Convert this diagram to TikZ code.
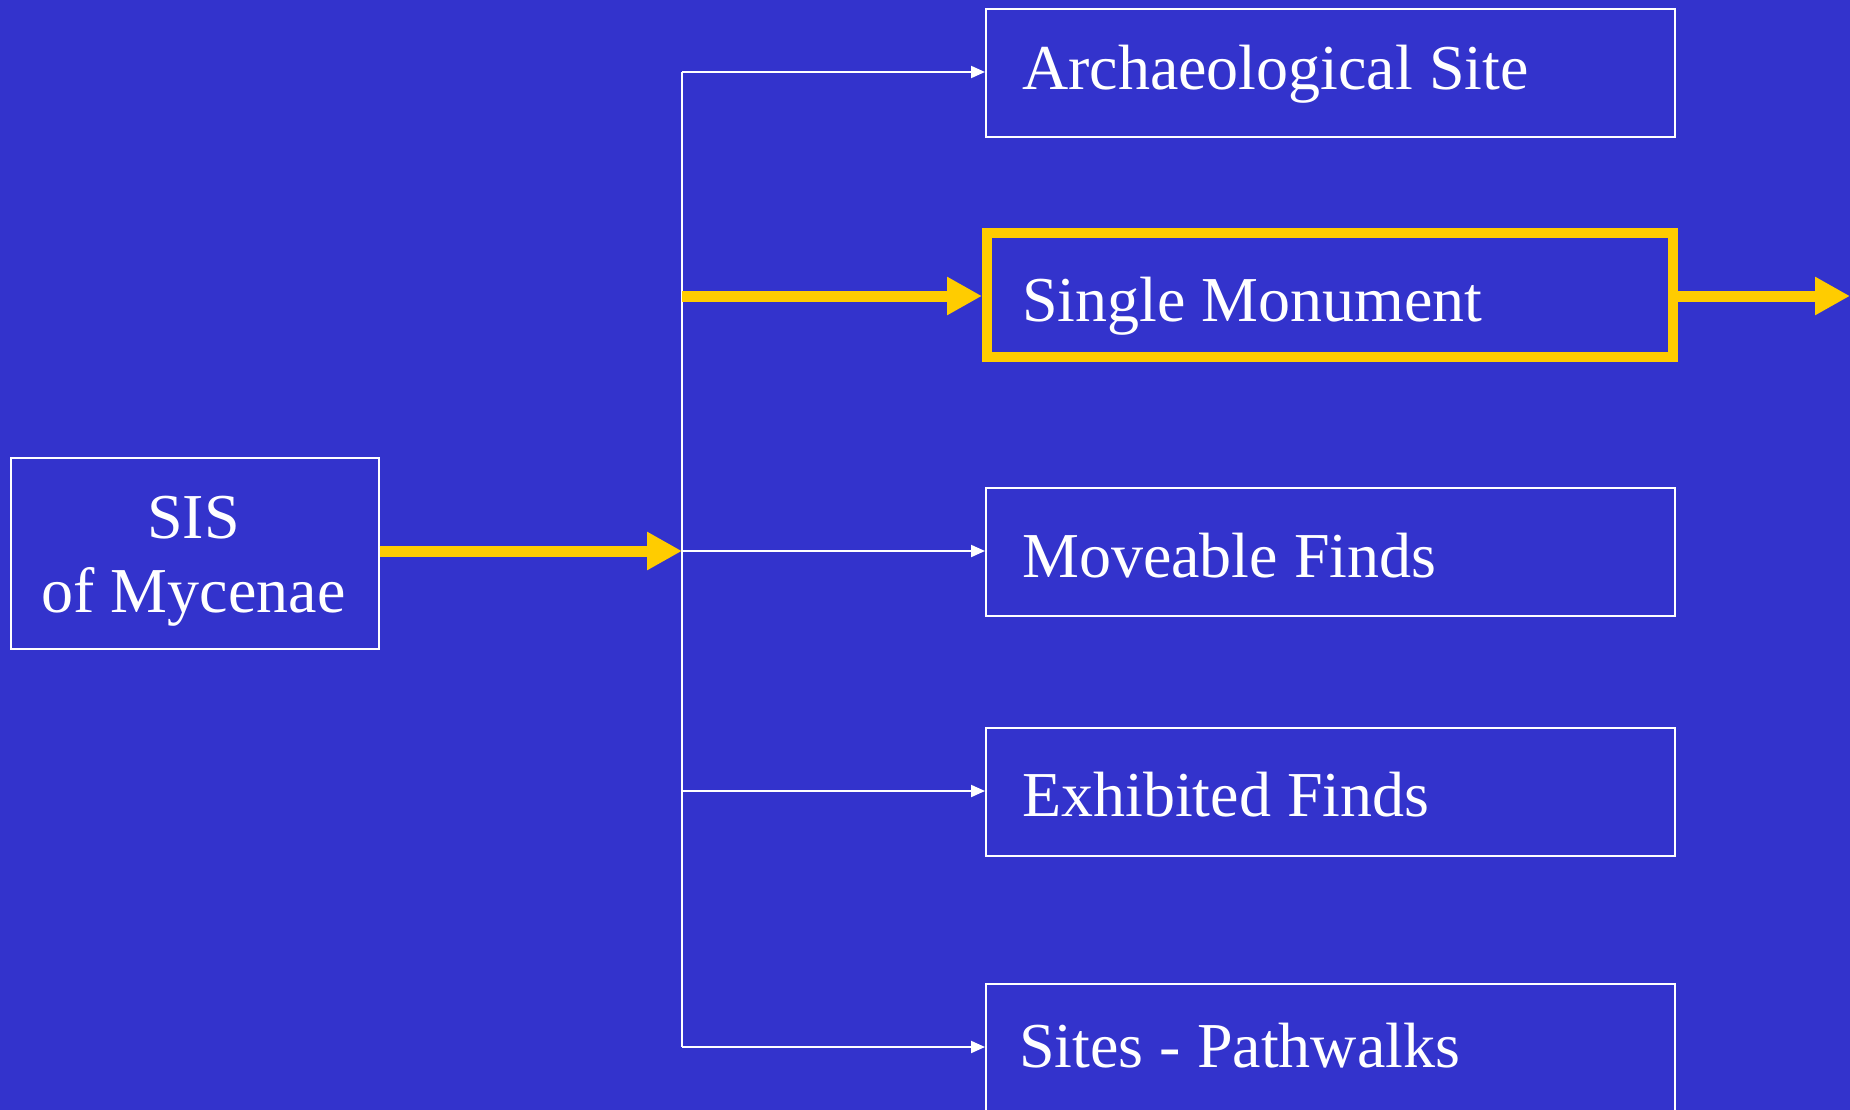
\documentclass[tikz,border=0pt]{standalone}
\usepackage{fontspec}
\setmainfont{Liberation Serif}
\usetikzlibrary{arrows.meta}
\definecolor{bg}{HTML}{3333CC}
\definecolor{gold}{HTML}{FFCC00}
\begin{document}
\begin{tikzpicture}[x=1pt,y=-1pt,
  wbox/.style={draw=white, line width=2pt, minimum width=689pt, minimum height=128pt, inner sep=0pt, anchor=north west},
  ybox/.style={draw=gold, line width=10pt, minimum width=686pt, minimum height=124pt, inner sep=0pt},
  lbl/.style={text=white, inner sep=0pt, font=\fontsize{64}{76}\selectfont},
  wline/.style={draw=white, line width=2pt},
  warrow/.style={wline, -{Triangle[length=14pt,width=12pt]}},
  yarrow/.style={draw=gold, line width=11pt, -{Triangle[length=35pt,width=36pt]}}]
\useasboundingbox (0,0) rectangle (1850,1110);
\clip (0,0) rectangle (1850,1110);
\fill[bg] (0,0) rectangle (1850,1110);

% boxes
\node[wbox, minimum width=368pt, minimum height=191pt] (sis) at (9.5,456.5) {};
\node[wbox] (arch) at (985,8) {};
\node[ybox] (mono) at (1330,295) {};
\node[wbox] (move) at (985,487) {};
\node[wbox] (exhib) at (985,727) {};
\node[wbox, minimum height=180pt] (sites) at (985,983) {};

% texts
\node[lbl, anchor=base] (sisA) at (193.5,538) {SIS};
\node[lbl, anchor=base] (sisB) at (193.5,612) {of Mycenae};
\node[lbl, anchor=base west] (archT) at (1022,90) {Archaeological Site};
\node[lbl, anchor=base west] (monoT) at (1022,321) {Single Monument};
\node[lbl, anchor=base west] (moveT) at (1022,577) {Moveable Finds};
\node[lbl, anchor=base west] (exhibT) at (1022,816) {Exhibited Finds};
\node[lbl, anchor=base west] (sitesT) at (1019,1067) {Sites - Pathwalks};

% junction coordinates
\coordinate (jA) at (682,72);
\coordinate (jM) at (682,296);
\coordinate (jC) at (682,551);
\coordinate (jE) at (682,791);
\coordinate (jS) at (682,1047);
\coordinate (out) at (1850,296);

% connectors
\draw[wline] (jA) -- (jS);
\draw[warrow] (jA) -- (arch.west |- jA);
\draw[warrow] (jC) -- (move.west |- jC);
\draw[warrow] (jE) -- (exhib.west |- jE);
\draw[warrow] (jS) -- (sites.west |- jS);
\draw[yarrow] (sis.east |- jC) -- (jC);
\draw[yarrow] (jM) -- (mono.west |- jM);
\draw[yarrow] (mono.east |- jM) -- (out);
\end{tikzpicture}
\end{document}
